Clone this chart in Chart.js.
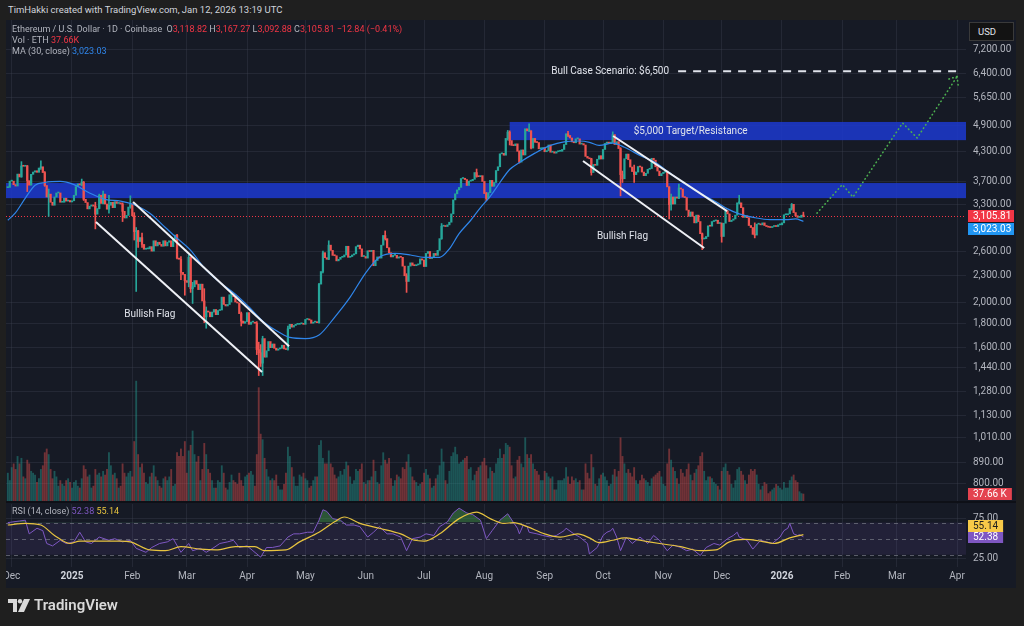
<!DOCTYPE html>
<html>
<head>
<meta charset="utf-8">
<script src="https://cdn.jsdelivr.net/npm/chart.js@4.4.0/dist/chart.umd.min.js"></script>
<style>
  body { margin: 0; width: 1024px; height: 626px; overflow: hidden; position: relative; background: #1f1f1f; font-family: Roboto, "Liberation Sans", sans-serif; }
  .abs { position: absolute; }
  #credit { left: 8px; top: 4px; font-size: 9.5px; color: #d1d4dc; }
  #pane { left: 6px; top: 20px; width: 1010px; height: 568px; background: #161a25; }
  #sep { left: 6px; top: 501px; width: 1010px; height: 2px; background: #0e1017; }
  .legend { left: 12px; font-size: 9px; color: #b2b5be; white-space: pre; }
  .dn { color: #f23645; }
  .ma { color: #2f86eb; }
  .rsi { color: #7e57c2; }
  .rsima { color: #e8c43f; }
  #usd { left: 969px; top: 22px; height: 17px; width: 35px; border: 1px solid #3a3a3a; background: #131313; color: #e0e3eb; font-size: 9.5px; line-height: 17px; padding-left: 8px; }
  #logo { left: 8px; top: 596px; color: #d9d9d9; font-size: 15px; font-weight: 600; display: flex; align-items: center; gap: 4px; }
</style>
</head>
<body>
<div id="credit" class="abs">TimHakki created with TradingView.com, Jan 12, 2026 13:19 UTC</div>
<div id="pane" class="abs"></div>
<canvas id="mainChart" class="abs" width="1010" height="481" style="left:6px;top:20px"></canvas>
<div id="sep" class="abs"></div>
<canvas id="rsiChart" class="abs" width="1010" height="85" style="left:6px;top:503px"></canvas>
<div id="legend1" class="abs legend" style="top:24px"></div>
<div id="legend2" class="abs legend" style="top:35px"></div>
<div id="legend3" class="abs legend" style="top:46px"></div>
<div id="legend4" class="abs legend" style="top:506px"></div>
<div id="usd" class="abs">USD</div>
<div id="logo" class="abs">
  <svg width="22" height="13" viewBox="0 0 22 13"><path d="M0 0h9v13H5V4H0z" fill="#d9d9d9"/><circle cx="12" cy="2.2" r="2.2" fill="#d9d9d9"/><path d="M16 0h6l-6 13h-6z" fill="#d9d9d9"/></svg>
  <span>TradingView</span>
</div>
<script>
// ETH/USD daily closes, Coinbase, from Nov 29 2024 (day -2, Dec 1 2024 = day 0)
const firstDay = -2;
const firstOpen = 3585;
const closes = [
  3590, 3705,
  // Dec 2024
  3705, 3640, 3615, 3840, 3785, 4000, 3995, 4005, 3715, 3630, 3835, 3880, 3905, 3875, 3960, 3985, 3870, 3625, 3420, 3470, 3330, 3280, 3420, 3490, 3490, 3330, 3330, 3400, 3350, 3360, 3335,
  // Jan 2025
  3355, 3450, 3605, 3655, 3635, 3685, 3380, 3325, 3220, 3265, 3285, 3265, 3135, 3225, 3450, 3310, 3470, 3300, 3215, 3280, 3330, 3240, 3340, 3310, 3320, 3300, 3180, 3075, 3115, 3250, 3300,
  // Feb
  3110, 2870, 2880, 2730, 2785, 2690, 2625, 2630, 2630, 2660, 2600, 2740, 2670, 2720, 2690, 2665, 2740, 2670, 2720, 2740, 2660, 2760, 2820, 2510, 2495, 2335, 2310, 2240,
  // Mar
  2220, 2520, 2150, 2170, 2240, 2200, 2140, 2200, 2020, 1865, 1920, 1910, 1865, 1910, 1935, 1885, 1925, 1930, 2060, 1985, 1970, 1985, 2085, 2085, 2065, 2010, 2000, 1895, 1825, 1805, 1820,
  // Apr
  1905, 1795, 1815, 1815, 1805, 1580, 1555, 1475, 1670, 1520, 1570, 1645, 1595, 1625, 1590, 1575, 1585, 1590, 1615, 1585, 1580, 1755, 1795, 1770, 1785, 1795, 1795, 1800, 1800, 1795,
  // May
  1840, 1840, 1835, 1805, 1815, 1815, 1810, 2200, 2345, 2580, 2515, 2495, 2680, 2610, 2545, 2540, 2475, 2495, 2520, 2525, 2550, 2665, 2520, 2530, 2550, 2565, 2660, 2680, 2630, 2530, 2530,
  // Jun
  2510, 2605, 2595, 2610, 2415, 2480, 2525, 2510, 2680, 2815, 2770, 2645, 2580, 2525, 2545, 2545, 2510, 2525, 2520, 2410, 2295, 2230, 2410, 2450, 2420, 2415, 2425, 2435, 2500, 2485,
  // Jul
  2405, 2570, 2595, 2505, 2515, 2570, 2545, 2610, 2770, 2950, 2955, 2945, 2970, 3010, 3140, 3370, 3475, 3545, 3590, 3755, 3760, 3735, 3625, 3705, 3715, 3740, 3870, 3795, 3790, 3810, 3700,
  // Aug
  3480, 3395, 3495, 3720, 3610, 3680, 3910, 3985, 4255, 4265, 4225, 4600, 4750, 4550, 4440, 4435, 4475, 4310, 4080, 4340, 4230, 4830, 4780, 4780, 4380, 4600, 4510, 4505, 4365, 4370, 4390,
  // Sep
  4300, 4325, 4450, 4290, 4300, 4270, 4300, 4310, 4310, 4350, 4460, 4710, 4670, 4610, 4520, 4500, 4590, 4590, 4470, 4480, 4450, 4200, 4165, 4150, 3870, 4030, 4015, 4140, 4215, 4145,
  // Oct
  4350, 4485, 4515, 4480, 4515, 4690, 4460, 4525, 4370, 3830, 3750, 4150, 4250, 4130, 3980, 3890, 3830, 3880, 3990, 3980, 3880, 3810, 3855, 3935, 3950, 4160, 4120, 3985, 3900, 3810, 3850,
  // Nov
  3875, 3900, 3600, 3290, 3420, 3300, 3420, 3400, 3580, 3560, 3420, 3410, 3200, 3100, 3170, 3100, 3000, 3120, 3020, 2840, 2765, 2770, 2800, 2955, 2950, 3020, 3030, 3040, 2990, 2990,
  // Dec
  2800, 2995, 3190, 3140, 3020, 3040, 3060, 3120, 3320, 3320, 3240, 3085, 3110, 3080, 2960, 2930, 2830, 2820, 2980, 2980, 2970, 3000, 2960, 2945, 2935, 2930, 2945, 2950, 2945, 2970, 2970,
  // Jan 2026
  3000, 3125, 3125, 3140, 3225, 3295, 3160, 3110, 3085, 3085, 3118.82, 3105.81
];

// notable wicks (day, high, low)
const wickDays  = [5, 8, 15, 17, 19, 36, 37, 43, 45, 47, 50, 57, 61, 63, 64, 65, 67, 85, 87, 89, 91, 92, 93, 99, 100, 113, 118, 126, 127, 128, 129, 142, 158, 160, 163, 192, 203, 221, 239, 244, 255, 256, 261, 266, 267, 286, 298, 309, 313, 314, 320, 338, 339, 343, 355, 365, 374, 382, 401, 407];
const wickHighs = [4090, 4010, 4105, 3890, 3560, 3745, 3700, 3330, 3470, 3525, 3450, 3320, 3440, 3160, 2930, 2890, 2850, 2830, 2530, 2310, 2550, 2525, 2220, 2150, 1960, 2105, 1910, 1820, 1640, 1620, 1690, 1780, 2210, 2600, 2740, 2880, 2320, 2990, 3940, 3500, 4790, 4780, 4320, 4955, 4780, 4770, 4160, 4755, 4390, 3900, 4020, 3600, 3470, 3650, 2850, 3000, 3450, 3000, 3310, 3167.27];
const wickLows  = [3780, 3515, 3930, 3610, 3100, 3620, 3360, 2910, 3220, 3300, 3150, 3020, 3230, 2750, 2120, 2650, 2650, 2500, 2250, 2080, 2170, 2110, 1995, 1810, 1760, 2010, 1780, 1540, 1385, 1450, 1385, 1575, 1805, 2330, 2490, 2750, 2110, 2760, 3780, 3355, 4560, 4450, 4060, 4760, 4360, 4640, 3820, 4505, 3440, 3680, 3680, 3060, 3200, 3390, 2620, 2720, 3300, 2780, 3200, 3092.88];

// daily volume, thousands of ETH
const volumes = [
  150, 110,
  180, 200, 170, 240, 200, 230, 130, 120, 220, 200, 160, 150, 140, 100, 120, 170, 190, 260, 280, 250, 170, 120, 160, 130, 80, 110, 90, 80, 110, 120, 100,
  70, 100, 110, 80, 70, 120, 190, 170, 130, 140, 70, 80, 170, 140, 150, 130, 160, 140, 170, 260, 190, 140, 150, 120, 70, 80, 200, 150, 130, 150, 160,
  130, 320, 645, 250, 180, 200, 150, 100, 90, 130, 150, 190, 130, 110, 80, 70, 120, 130, 110, 130, 170, 80, 90, 260, 240, 280, 240, 320,
  150, 270, 300, 377, 250, 210, 240, 110, 170, 310, 250, 170, 150, 110, 70, 70, 110, 100, 190, 150, 70, 60, 100, 140, 110, 100, 90, 150, 110, 80, 130,
  140, 150, 160, 140, 80, 250, 610, 360, 330, 230, 170, 130, 110, 120, 110, 140, 80, 60, 60, 90, 150, 290, 240, 180, 130, 80, 80, 140, 130, 150,
  120, 110, 70, 80, 110, 130, 130, 300, 325, 230, 200, 200, 270, 200, 180, 140, 120, 130, 160, 140, 170, 210, 190, 130, 90, 110, 170, 160, 170, 200, 100,
  90, 110, 110, 130, 220, 160, 100, 90, 190, 260, 220, 200, 230, 120, 80, 110, 140, 130, 120, 180, 170, 210, 250, 180, 130, 110, 100, 80, 90, 100,
  150, 170, 140, 120, 70, 80, 120, 140, 190, 280, 210, 110, 90, 160, 240, 260, 290, 250, 200, 210, 220, 230, 240, 170, 180, 110, 140, 160, 180, 190, 210,
  230, 190, 120, 180, 160, 150, 200, 230, 280, 230, 250, 310, 300, 290, 190, 120, 130, 220, 240, 200, 180, 340, 250, 230, 250, 200, 170, 160, 140, 110, 110,
  160, 150, 130, 120, 130, 60, 60, 110, 110, 110, 120, 180, 130, 90, 130, 110, 120, 100, 110, 60, 60, 200, 150, 120, 250, 180, 90, 80, 120, 140,
  150, 130, 110, 80, 90, 140, 170, 130, 160, 340, 240, 200, 150, 170, 150, 130, 180, 110, 90, 110, 140, 120, 110, 100, 80, 120, 130, 140, 150, 160, 130,
  90, 80, 200, 280, 220, 180, 160, 120, 90, 170, 150, 130, 170, 200, 140, 110, 150, 170, 190, 240, 260, 160, 110, 130, 130, 120, 100, 90, 80, 60,
  160, 180, 200, 160, 140, 90, 70, 110, 170, 180, 160, 140, 110, 90, 140, 170, 160, 170, 140, 90, 60, 80, 100, 90, 40, 50, 60, 70, 90, 80, 70,
  60, 100, 70, 70, 110, 130, 140, 110, 100, 50, 40, 37.66
];

// MA (30, close)
const maDays = [-2, 2, 7, 12, 17, 25, 32, 40, 48, 56, 62, 71, 79, 84, 92, 99, 107, 115, 122, 130, 138, 143, 151, 158, 166, 174, 182, 189, 197, 205, 212, 220, 225, 230, 236, 241, 246, 251, 256, 261, 269, 277, 284, 292, 297, 302, 309, 315, 323, 331, 338, 346, 354, 362, 368, 374, 382, 390, 398, 403, 407];
const maValues = [3040, 3160, 3400, 3630, 3680, 3700, 3640, 3490, 3380, 3350, 3300, 3150, 2930, 2800, 2610, 2390, 2220, 2090, 1960, 1810, 1720, 1680, 1670, 1700, 1860, 2060, 2330, 2520, 2570, 2550, 2520, 2520, 2630, 2840, 3040, 3240, 3430, 3680, 3930, 4070, 4270, 4440, 4520, 4540, 4510, 4440, 4490, 4400, 4220, 4070, 3870, 3660, 3480, 3340, 3220, 3140, 3080, 3050, 3050, 3060, 3023.03];

// RSI (14, close) and its MA
const rsiDays = [-2, 4, 7, 9, 13, 16, 18, 21, 25, 28, 32, 35, 38, 41, 45, 50, 53, 57, 61, 64, 69, 72, 76, 80, 83, 87, 91, 93, 97, 100, 104, 107, 111, 114, 117, 121, 124, 128, 131, 134, 138, 142, 145, 148, 152, 155, 158, 160, 162, 165, 169, 172, 176, 179, 183, 186, 189, 193, 196, 200, 203, 206, 210, 213, 217, 220, 224, 227, 230, 234, 237, 241, 244, 247, 251, 255, 258, 260, 261, 263, 265, 266, 270, 273, 277, 280, 284, 285, 289, 292, 296, 297, 301, 304, 306, 308, 309, 311, 313, 316, 319, 323, 327, 330, 333, 337, 340, 344, 347, 350, 354, 357, 361, 364, 368, 371, 373, 374, 378, 381, 385, 388, 391, 395, 397, 399, 400, 402, 404, 405, 407];
const rsiValues = [70, 72, 73, 56, 63, 60, 44, 41, 48, 44, 46, 58, 46, 44, 52, 48, 50, 46, 48, 38, 33, 39, 44, 46, 50, 33, 44, 35, 38, 33, 39, 44, 46, 48, 39, 41, 35, 27, 39, 39, 41, 52, 56, 56, 58, 58, 73, 86, 84, 75, 73, 67, 67, 65, 52, 58, 65, 56, 56, 52, 35, 50, 52, 56, 54, 65, 71, 82, 88, 82, 80, 73, 50, 60, 73, 81, 70, 63, 56, 67, 65, 58, 56, 54, 52, 54, 60, 63, 56, 52, 44, 31, 39, 54, 58, 60, 63, 52, 35, 52, 44, 52, 44, 54, 48, 35, 42, 39, 35, 37, 29, 39, 44, 42, 50, 54, 58, 52, 48, 37, 48, 46, 44, 52, 60, 63, 69, 56, 54, 55, 52.38];
const rsiMaDays = [-2, 7, 15, 22, 30, 35, 45, 56, 61, 71, 79, 87, 97, 105, 115, 125, 130, 141, 148, 158, 166, 171, 179, 189, 200, 207, 212, 220, 230, 239, 246, 253, 258, 265, 274, 282, 291, 297, 302, 309, 315, 323, 333, 344, 354, 362, 369, 377, 385, 392, 400, 407];
const rsiMaValues = [67, 69, 67, 54, 44, 47, 47, 47, 46, 36, 35, 40, 37, 36, 40, 40, 35, 36, 46, 58, 71, 77, 69, 63, 56, 48, 47, 56, 75, 83, 75, 69, 70, 65, 56, 52, 56, 51, 45, 48, 51, 48, 44, 40, 35, 36, 46, 49, 47, 44, 51, 55.14];

// axis ticks
const monthDays = [0, 31, 62, 90, 121, 151, 182, 212, 243, 274, 304, 335, 365, 396, 427, 455, 486];
const monthLabels = ["Dec", "2025", "Feb", "Mar", "Apr", "May", "Jun", "Jul", "Aug", "Sep", "Oct", "Nov", "Dec", "2026", "Feb", "Mar", "Apr"];
const priceTicks = [800, 890, 1010, 1130, 1280, 1440, 1600, 1800, 2000, 2300, 2600, 3300, 3700, 4300, 4900, 5650, 6400, 7200];
const rsiTicks = [25, 75];

// drawings on the price pane
const zoneFrom = [-10, 256];
const zoneBottom = [3400, 4560];
const zoneTop = [3670, 5000];
const zoneText = ["", "$5,000 Target/Resistance"];
const flagFromDay = [62.4, 43.3, 309.2, 293.7];
const flagFromPrice = [3333, 3012, 4657, 4103];
const flagToDay = [142.6, 128.7, 367.8, 356];
const flagToPrice = [1607, 1410, 3184, 2642];
const flagTextDay = [71, 314];
const flagTextPrice = [1882, 2794];
const bullDay = 342.6;
const bullPrice = 6460;
const projDays = [414, 427, 432.5, 458, 465.5, 486];
const projPrices = [3152, 3641, 3419, 4973, 4610, 6292];

// legend values
const lastOpen = 3118.82, lastHigh = 3167.27, lastLow = 3092.88, lastClose = 3105.81;
const lastChange = -12.84, lastChangePct = -0.41;
const lastVolume = 37.66;
const lastMa = 3023.03;
const lastRsi = 52.38, lastRsiMa = 55.14;

const xMin = -2.93, xMax = 490.6;
const priceMin = 734, priceMax = 8377;
const volMax = 2588;
const rsiMin = 14.7, rsiMax = 93.2;

const upColor = "#26a69a", downColor = "#ef5350";
const gridColor = "rgba(64,68,82,0.35)";
const fontFamily = 'Roboto, "Liberation Sans", sans-serif';
Chart.defaults.font.family = fontFamily;

const fmt = (v) => v.toLocaleString("en-US", { minimumFractionDigits: 2, maximumFractionDigits: 2 });

// legend text
document.getElementById("legend1").innerHTML =
  'Ethereum / U.S. Dollar · 1D · Coinbase <span style="margin-left:2px">O</span><span class="dn">' + fmt(lastOpen) + '</span> H<span class="dn">' + fmt(lastHigh) +
  '</span> L<span class="dn">' + fmt(lastLow) + '</span> C<span class="dn">' + fmt(lastClose) + ' ' +
  fmt(lastChange).replace("-", "\u2212") + ' (' + lastChangePct.toFixed(2).replace("-", "\u2212") + '%)</span>';
document.getElementById("legend2").innerHTML = 'Vol · ETH <span class="dn">' + lastVolume + 'K</span>';
document.getElementById("legend3").innerHTML = 'MA (30, close) <span class="ma">' + fmt(lastMa) + '</span>';
document.getElementById("legend4").innerHTML = 'RSI (14, close) <span class="rsi">' + lastRsi + '</span> <span class="rsima">' + lastRsiMa + '</span>';

// candles
const opens = closes.map((c, i) => (i === 0 ? firstOpen : closes[i - 1]));
const days = closes.map((c, i) => firstDay + i);
const candleColors = closes.map((c, i) => (c >= opens[i] ? upColor : downColor));
const bodyPoints = closes.map((c, i) => ({ x: days[i], y: [opens[i], c] }));
const wickPoints = wickDays.map((d, i) => ({ x: d, y: [wickLows[i], wickHighs[i]] }));
const wickColors = wickDays.map((d) => candleColors[d - firstDay]);
const volPoints = volumes.map((v, i) => ({ x: days[i], y: v }));
const volColors = closes.map((c, i) => (c >= opens[i] ? "rgba(38,166,154,0.42)" : "rgba(239,83,80,0.42)"));
const maPoints = maDays.map((d, i) => ({ x: d, y: maValues[i] }));

function drawTag(ctx, chart, text, cy, bg, fg) {
  ctx.font = "10px " + fontFamily;
  const left = chart.chartArea.right + 2;
  const w = Math.min(ctx.measureText(text).width + 10, chart.width - left - 2);
  ctx.fillStyle = bg;
  ctx.fillRect(left, Math.round(cy - 6), w, 12);
  ctx.fillStyle = fg;
  ctx.textAlign = "left";
  ctx.textBaseline = "middle";
  ctx.fillText(text, left + 5, cy + 0.5);
}

const paneDrawings = {
  id: "paneDrawings",
  beforeDatasetsDraw(chart) {
    const { ctx, chartArea: a, scales } = chart;
    const x = scales.x, y = scales.y;
    ctx.save();
    ctx.beginPath();
    ctx.rect(a.left, a.top, a.width, a.height);
    ctx.clip();
    // support / resistance zones
    ctx.fillStyle = "rgba(28,58,208,0.85)";
    zoneFrom.forEach((d, i) => {
      const left = Math.max(a.left, x.getPixelForValue(d));
      const top = y.getPixelForValue(zoneTop[i]);
      const bottom = y.getPixelForValue(zoneBottom[i]);
      ctx.fillRect(left, top, a.right - left, bottom - top);
    });
    // last price line
    const py = Math.round(y.getPixelForValue(lastClose)) + 0.5;
    ctx.strokeStyle = "#f23645";
    ctx.lineWidth = 1;
    ctx.setLineDash([1, 2]);
    ctx.beginPath();
    ctx.moveTo(a.left, py);
    ctx.lineTo(a.right, py);
    ctx.stroke();
    ctx.restore();
  },
  afterDatasetsDraw(chart) {
    const { ctx, chartArea: a, scales } = chart;
    const x = scales.x, y = scales.y;
    ctx.save();
    ctx.beginPath();
    ctx.rect(a.left, a.top, a.width, a.height);
    ctx.clip();
    // flag channels
    ctx.strokeStyle = "#eef0f5";
    ctx.lineWidth = 2;
    flagFromDay.forEach((d, i) => {
      ctx.beginPath();
      ctx.moveTo(x.getPixelForValue(d), y.getPixelForValue(flagFromPrice[i]));
      ctx.lineTo(x.getPixelForValue(flagToDay[i]), y.getPixelForValue(flagToPrice[i]));
      ctx.stroke();
    });
    ctx.font = "10px " + fontFamily;
    ctx.fillStyle = "#e0e3eb";
    ctx.textAlign = "center";
    ctx.textBaseline = "middle";
    flagTextDay.forEach((d, i) => {
      ctx.fillText("Bullish Flag", x.getPixelForValue(d), y.getPixelForValue(flagTextPrice[i]));
    });
    zoneText.forEach((t, i) => {
      if (!t) return;
      const left = x.getPixelForValue(zoneFrom[i]);
      const mid = (y.getPixelForValue(zoneTop[i]) + y.getPixelForValue(zoneBottom[i])) / 2;
      ctx.textAlign = "left";
      ctx.fillText(t, left + 124, mid);
    });
    // bull case target
    const by = y.getPixelForValue(bullPrice);
    const bx = x.getPixelForValue(bullDay);
    ctx.strokeStyle = "#e0e3eb";
    ctx.lineWidth = 2;
    ctx.setLineDash([8, 7]);
    ctx.beginPath();
    ctx.moveTo(bx, by);
    ctx.lineTo(a.right - 3, by);
    ctx.stroke();
    ctx.textAlign = "right";
    ctx.fillText("Bull Case Scenario: $6,500", bx - 9, by + 0.5);
    // projected path
    ctx.strokeStyle = "#4caf50";
    ctx.lineWidth = 1.6;
    ctx.lineCap = "round";
    ctx.setLineDash([0.5, 3.5]);
    ctx.beginPath();
    projDays.forEach((d, i) => {
      const px = x.getPixelForValue(d), py = y.getPixelForValue(projPrices[i]);
      if (i === 0) ctx.moveTo(px, py); else ctx.lineTo(px, py);
    });
    ctx.stroke();
    const n = projDays.length;
    const tx = x.getPixelForValue(projDays[n - 1]), ty = y.getPixelForValue(projPrices[n - 1]);
    const ang = Math.atan2(y.getPixelForValue(projPrices[n - 2]) - ty, x.getPixelForValue(projDays[n - 2]) - tx);
    [-0.7, 0.7].forEach((off) => {
      ctx.beginPath();
      ctx.moveTo(tx, ty);
      ctx.lineTo(tx + 10 * Math.cos(ang + off), ty + 10 * Math.sin(ang + off));
      ctx.stroke();
    });
    ctx.restore();
  },
  afterDraw(chart) {
    const { ctx, scales } = chart;
    ctx.save();
    const cy = scales.y.getPixelForValue(lastClose);
    drawTag(ctx, chart, fmt(lastClose), cy, "#f23645", "#ffffff");
    drawTag(ctx, chart, fmt(lastMa), Math.max(cy + 13, scales.y.getPixelForValue(lastMa)), "#2196f3", "#ffffff");
    drawTag(ctx, chart, lastVolume + " K", scales.yVol.getPixelForValue(lastVolume), "#e4434f", "#ffffff");
    ctx.restore();
  }
};

const mainChart = new Chart(document.getElementById("mainChart"), {
  type: "bar",
  data: {
    datasets: [
      { type: "bar", label: "Volume", data: volPoints, yAxisID: "yVol", backgroundColor: volColors, barThickness: 1.2, grouped: false, order: 4 },
      { type: "bar", label: "Wicks", data: wickPoints, yAxisID: "y", backgroundColor: wickColors, barThickness: 1, grouped: false, order: 3 },
      { type: "bar", label: "ETH", data: bodyPoints, yAxisID: "y", backgroundColor: candleColors, barThickness: 1.6, minBarLength: 1, grouped: false, order: 2 },
      { type: "line", label: "MA 30", data: maPoints, yAxisID: "y", borderColor: "#2f86eb", borderWidth: 1.2, pointRadius: 0, cubicInterpolationMode: "monotone", order: 1 }
    ]
  },
  options: {
    responsive: false,
    animation: false,
    events: [],
    layout: { padding: 0 },
    plugins: { legend: { display: false }, tooltip: { enabled: false } },
    scales: {
      x: {
        type: "linear", min: xMin, max: xMax, offset: false,
        grid: { color: gridColor, offset: false, drawTicks: false },
        border: { display: false },
        ticks: { display: false },
        afterBuildTicks: (s) => { s.ticks = monthDays.map((v) => ({ value: v })); },
        afterFit: (s) => { s.height = 0; s.paddingLeft = 0; s.paddingRight = 0; }
      },
      y: {
        type: "logarithmic", position: "right", min: priceMin, max: priceMax, bounds: "data",
        grid: { color: gridColor, drawTicks: false },
        border: { display: false },
        ticks: { color: "#b2b5be", font: { size: 10 }, padding: 7, autoSkip: false, callback: (v) => fmt(v) },
        afterBuildTicks: (s) => { s.ticks = priceTicks.map((v) => ({ value: v })); },
        afterFit: (s) => { s.width = 50; s.paddingTop = 0; s.paddingBottom = 0; }
      },
      yVol: { type: "linear", display: false, min: 0, max: volMax }
    }
  },
  plugins: [paneDrawings]
});

// RSI pane
const rsiPoints = rsiDays.map((d, i) => ({ x: d, y: rsiValues[i] }));
const rsiMaPoints = rsiMaDays.map((d, i) => ({ x: d, y: rsiMaValues[i] }));

const rsiDrawings = {
  id: "rsiDrawings",
  beforeDatasetsDraw(chart) {
    const { ctx, chartArea: a, scales } = chart;
    const y = scales.y;
    ctx.save();
    const y70 = y.getPixelForValue(70), y30 = y.getPixelForValue(30);
    ctx.fillStyle = "rgba(126,87,194,0.12)";
    ctx.fillRect(a.left, y70, a.width, y30 - y70);
    ctx.strokeStyle = "rgba(120,123,134,0.7)";
    ctx.lineWidth = 1;
    ctx.setLineDash([4, 4]);
    [70, 50, 30].forEach((v) => {
      const py = Math.round(y.getPixelForValue(v)) + 0.5;
      ctx.beginPath();
      ctx.moveTo(a.left, py);
      ctx.lineTo(a.right, py);
      ctx.stroke();
    });
    ctx.restore();
  },
  afterDraw(chart) {
    const { ctx, scales } = chart;
    ctx.save();
    const ry = scales.y.getPixelForValue(lastRsi);
    drawTag(ctx, chart, lastRsi.toFixed(2), ry, "#7e57c2", "#ffffff");
    drawTag(ctx, chart, lastRsiMa.toFixed(2), Math.min(ry - 11, scales.y.getPixelForValue(lastRsiMa)), "#f7c948", "#1e1e1e");
    ctx.restore();
  }
};

const rsiChart = new Chart(document.getElementById("rsiChart"), {
  type: "line",
  data: {
    datasets: [
      { label: "RSI MA", data: rsiMaPoints, borderColor: "#e8c43f", borderWidth: 1.2, pointRadius: 0, cubicInterpolationMode: "monotone", order: 1 },
      {
        label: "RSI", data: rsiPoints, borderColor: "#7e57c2", borderWidth: 1, pointRadius: 0, tension: 0, order: 2,
        fill: { target: { value: 70 }, above: "rgba(76,175,80,0.4)", below: "rgba(0,0,0,0)" }
      }
    ]
  },
  options: {
    responsive: false,
    animation: false,
    events: [],
    layout: { padding: { top: 1 } },
    plugins: { legend: { display: false }, tooltip: { enabled: false } },
    scales: {
      x: {
        type: "linear", min: xMin, max: xMax, offset: false,
        grid: { color: gridColor, offset: false, drawTicks: false },
        border: { display: false },
        ticks: {
          autoSkip: false, maxRotation: 0, padding: 3,
          color: (c) => (c.tick && /^20/.test(monthLabels[monthDays.indexOf(c.tick.value)]) ? "#d1d4dc" : "#b2b5be"),
          font: (c) => ({ size: 10, weight: c.tick && /^20/.test(monthLabels[monthDays.indexOf(c.tick.value)]) ? "bold" : "normal" }),
          callback: (v) => monthLabels[monthDays.indexOf(v)]
        },
        afterBuildTicks: (s) => { s.ticks = monthDays.map((v) => ({ value: v })); },
        afterFit: (s) => { s.height = 21; s.paddingLeft = 0; s.paddingRight = 0; }
      },
      y: {
        type: "linear", position: "right", min: rsiMin, max: rsiMax,
        grid: { color: gridColor, drawTicks: false },
        border: { display: false },
        ticks: { color: "#b2b5be", font: { size: 10 }, padding: 7, autoSkip: false, callback: (v) => fmt(v) },
        afterBuildTicks: (s) => { s.ticks = rsiTicks.map((v) => ({ value: v })); },
        afterFit: (s) => { s.width = 50; s.paddingTop = 0; s.paddingBottom = 0; }
      }
    }
  },
  plugins: [rsiDrawings]
});
</script>
</body>
</html>
